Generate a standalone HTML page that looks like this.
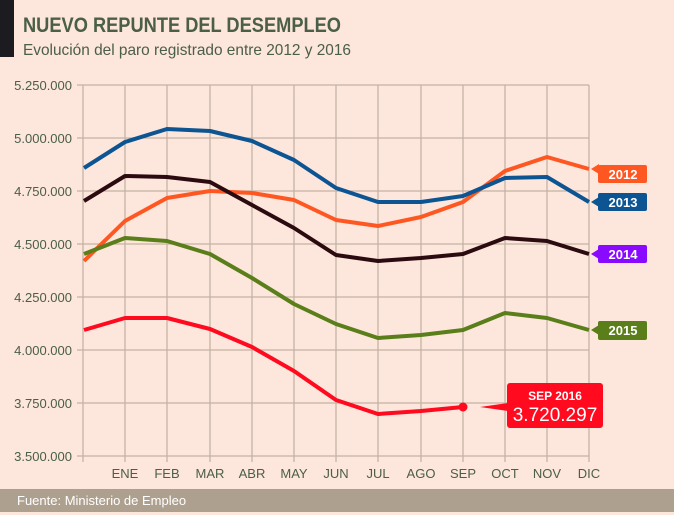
<!DOCTYPE html>
<html><head><meta charset="utf-8"><style>
html,body{margin:0;padding:0;background:#fde6dc;}
svg{display:block;font-family:"Liberation Sans",sans-serif;}
</style></head><body>
<svg width="674" height="515" viewBox="0 0 674 515" xmlns="http://www.w3.org/2000/svg">
<rect width="674" height="515" fill="#fde6dc"/>
<rect x="0" y="0" width="14" height="57" fill="#1c1c20"/>
<text x="23" y="32" font-size="21" fill="#4a5e48" font-weight="bold" textLength="318" lengthAdjust="spacingAndGlyphs">NUEVO REPUNTE DEL DESEMPLEO</text>
<text x="23" y="55" font-size="16" fill="#4a5e48" textLength="328" lengthAdjust="spacingAndGlyphs">Evolución del paro registrado entre 2012 y 2016</text>
<g stroke="#c4b4a4" stroke-width="1.3" fill="none">
<line x1="77" y1="85" x2="589" y2="85"/><line x1="77" y1="138" x2="589" y2="138"/>
<line x1="77" y1="191" x2="589" y2="191"/><line x1="77" y1="244" x2="589" y2="244"/>
<line x1="77" y1="297" x2="589" y2="297"/><line x1="77" y1="350" x2="589" y2="350"/>
<line x1="77" y1="403" x2="589" y2="403"/><line x1="77" y1="456" x2="589" y2="456"/>
<line x1="83" y1="85" x2="83" y2="462"/>
<line x1="125" y1="85" x2="125" y2="462"/><line x1="167" y1="85" x2="167" y2="462"/>
<line x1="210" y1="85" x2="210" y2="462"/><line x1="252" y1="85" x2="252" y2="462"/>
<line x1="294" y1="85" x2="294" y2="462"/><line x1="336" y1="85" x2="336" y2="462"/>
<line x1="378" y1="85" x2="378" y2="462"/><line x1="421" y1="85" x2="421" y2="462"/>
<line x1="463" y1="85" x2="463" y2="462"/><line x1="505" y1="85" x2="505" y2="462"/>
<line x1="547" y1="85" x2="547" y2="462"/><line x1="589" y1="85" x2="589" y2="462"/>
</g>
<g font-size="13" fill="#4a5e48" text-anchor="end">
<text x="72" y="90">5.250.000</text><text x="72" y="143">5.000.000</text>
<text x="72" y="196">4.750.000</text><text x="72" y="249">4.500.000</text>
<text x="72" y="302">4.250.000</text><text x="72" y="355">4.000.000</text>
<text x="72" y="408">3.750.000</text><text x="72" y="461">3.500.000</text>
</g>
<g font-size="13" fill="#4a5e48" text-anchor="middle">
<text x="125" y="478">ENE</text><text x="167" y="478">FEB</text><text x="210" y="478">MAR</text>
<text x="252" y="478">ABR</text><text x="294" y="478">MAY</text><text x="336" y="478">JUN</text>
<text x="378" y="478">JUL</text><text x="421" y="478">AGO</text><text x="463" y="478">SEP</text>
<text x="505" y="478">OCT</text><text x="547" y="478">NOV</text><text x="589" y="478">DIC</text>
</g>
<g fill="none" stroke-width="4" stroke-linejoin="round">
<polyline stroke="#ff5722" points="84,261 125,221 167,198 210,191 252,193 294,200 336,220 378,226 421,217 463,202 505,171 547,157 589,169"/>
<polyline stroke="#0d5592" points="84,168 125,142 167,129 210,131 252,141 294,160 336,188 378,202 421,202 463,196 505,178 547,177 589,202"/>
<polyline stroke="#2b0b10" points="84,201 125,176 167,177 210,182 252,205 294,228 336,255 378,261 421,258 463,254 505,238 547,241 589,254"/>
<polyline stroke="#5a7e1a" points="84,254 125,238 167,241 210,254 252,278 294,304 336,324 378,338 421,335 463,330 505,313 547,318 589,330"/>
<polyline stroke="#ff0a1e" points="84,330 125,318 167,318 210,329 252,347 294,371 336,400 378,414 421,411 463,407"/>
</g>
<circle cx="463" cy="407" r="4.5" fill="#ff0a1e"/>
<polygon points="480,407 508,403 508,411" fill="#ff0a1e"/>
<rect x="507" y="383" width="96" height="45" rx="3" fill="#ff0a1e"/>
<text x="555" y="400" font-size="12" fill="#fff" text-anchor="middle" font-weight="bold">SEP 2016</text>
<text x="555" y="421" font-size="19" fill="#fff" text-anchor="middle">3.720.297</text>
<g font-size="13" fill="#fff" text-anchor="middle" font-weight="bold">
<polygon points="591,169 599,164 599,174" fill="#ff5722"/><rect x="598" y="165" width="49" height="18" rx="2" fill="#ff5722"/><text x="623" y="179">2012</text>
<polygon points="591,202 599,197 599,207" fill="#0d5592"/><rect x="598" y="193" width="49" height="18" rx="2" fill="#0d5592"/><text x="623" y="207">2013</text>
<polygon points="591,254 599,249 599,259" fill="#8a0aff"/><rect x="598" y="245" width="49" height="18" rx="2" fill="#8a0aff"/><text x="623" y="259">2014</text>
<polygon points="591,330 599,325 599,335" fill="#5a7e1a"/><rect x="598" y="321" width="49" height="19" rx="2" fill="#5a7e1a"/><text x="623" y="335">2015</text>
</g>
<rect x="0" y="489" width="674" height="23" fill="#aea08e"/>
<text x="17" y="505" font-size="13" fill="#fff">Fuente: Ministerio de Empleo</text>
</svg>
</body></html>
